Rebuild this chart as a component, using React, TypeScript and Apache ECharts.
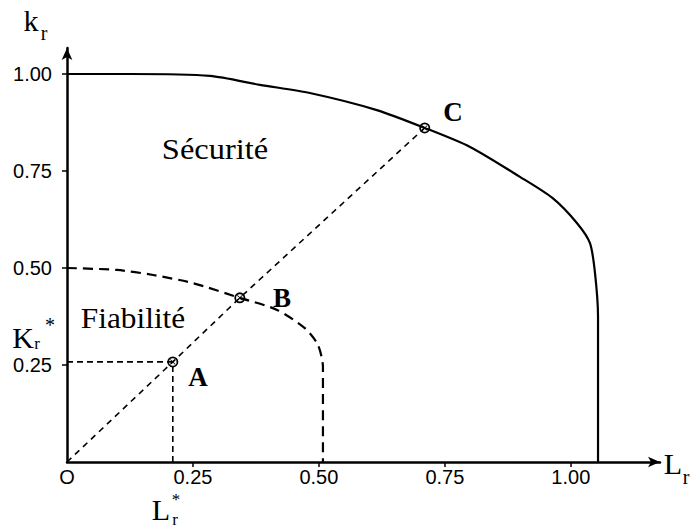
import React, { useEffect, useRef } from "react";
import * as echarts from "echarts";

// Outer limit curve (Sécurité), solid
const outerX = [0, 0.125, 0.284, 0.383, 0.482, 0.615, 0.71, 0.8, 0.899, 0.964, 1.012, 1.038, 1.048, 1.054, 1.054, 1.054];
const outerY = [1.0, 1.0, 0.995, 0.972, 0.951, 0.907, 0.861, 0.812, 0.735, 0.68, 0.616, 0.564, 0.487, 0.374, 0.289, 0];
// Inner limit curve (Fiabilité), dashed
const innerX = [0, 0.099, 0.171, 0.25, 0.343, 0.417, 0.472, 0.498, 0.508, 0.508];
const innerY = [0.5, 0.495, 0.482, 0.461, 0.423, 0.392, 0.345, 0.302, 0.245, 0];
// Load line from origin through A, B, C
const pointNames = ["A", "B", "C"];
const pointX = [0.21, 0.343, 0.71];
const pointY = [0.258, 0.423, 0.861];
// Axis ticks
const tickValues = [0.25, 0.5, 0.75, 1.0];

const NUM_FONT = "Liberation Sans, Arial, sans-serif";
const SERIF = "Liberation Serif, Times New Roman, serif";

const MARK =
  "path://M10 0A10 10 0 1 1 10 20A10 10 0 1 1 10 0ZM10 3.2A6.8 6.8 0 1 0 10 16.8A6.8 6.8 0 1 0 10 3.2ZM6 5L10 9L14 5L15 6L11 10L15 14L14 15L10 11L6 15L5 14L9 10L5 6Z";

const onQuarter = (v: number) => Math.abs(v * 4 - Math.round(v * 4)) < 1e-6;

export default function App() {
  const ref = useRef<HTMLDivElement>(null);
  useEffect(() => {
    if (!ref.current) return;
    const chart = echarts.init(ref.current, undefined, { renderer: "svg" });
    const zip = (xs: number[], ys: number[]) => xs.map((x, i) => [x, ys[i]]);
    const A = [pointX[0], pointY[0]];
    const txt = (text: string, x: number, y: number, size: number, opts: any = {}, sx = 1) => ({
      type: "text",
      x,
      y,
      scaleX: sx,
      style: {
        text,
        fontSize: size,
        fontFamily: SERIF,
        fill: "#000",
        align: "center",
        verticalAlign: "middle",
        ...opts,
      },
    });
    const loadLine = [
      { value: [0, 0], symbol: "none" },
      ...zip(pointX, pointY).map((p, i) => ({ value: p, name: pointNames[i] })),
    ];
    const axisCommon = {
      type: "value",
      min: 0,
      interval: 0.25,
      splitLine: { show: false },
      axisLine: {
        show: true,
        onZero: false,
        symbol: ["none", "arrow"],
        symbolSize: [8, 12],
        lineStyle: { color: "#000", width: 2.5 },
      },
      axisTick: { show: true, customValues: tickValues, length: 5, lineStyle: { color: "#000", width: 1.5 } },
    };
    chart.setOption({
      animation: false,
      backgroundColor: "#fff",
      grid: { left: 67, right: 32, top: 48, bottom: 68, containLabel: false },
      xAxis: {
        ...axisCommon,
        max: 1.177,
        axisLabel: {
          color: "#000",
          fontSize: 20,
          fontFamily: NUM_FONT,
          margin: 5,
          showMaxLabel: false,
          formatter: (v: number) => (!onQuarter(v) ? "" : v === 0 ? "O" : v.toFixed(2)),
        },
      },
      yAxis: {
        ...axisCommon,
        max: 1.067,
        axisLabel: {
          color: "#000",
          fontSize: 20,
          fontFamily: NUM_FONT,
          margin: 15,
          showMaxLabel: false,
          formatter: (v: number) => (!onQuarter(v) || v === 0 ? "" : v.toFixed(2)),
        },
      },
      series: [
        {
          type: "line",
          data: zip(outerX, outerY),
          showSymbol: false,
          smooth: 0.25,
          lineStyle: { color: "#000", width: 2.2 },
          z: 3,
        },
        {
          type: "line",
          data: zip(innerX, innerY),
          showSymbol: false,
          smooth: 0.25,
          lineStyle: { color: "#000", width: 2.2, type: [10, 6] },
          z: 3,
        },
        {
          type: "line",
          data: [[0, A[1]], A],
          showSymbol: false,
          lineStyle: { color: "#000", width: 1.6, type: [6, 4] },
          z: 2,
        },
        {
          type: "line",
          data: [[A[0], 0], A],
          showSymbol: false,
          lineStyle: { color: "#000", width: 1.6, type: [6, 4] },
          z: 2,
        },
        {
          type: "line",
          data: loadLine,
          showSymbol: true,
          showAllSymbol: true,
          symbol: MARK,
          symbolSize: 11,
          itemStyle: { color: "#000" },
          lineStyle: { color: "#000", width: 1.6, type: [6, 5] },
          z: 4,
        },
      ],
      graphic: [
        // y axis name k_r
        txt("k", 31, 20, 30),
        txt("r", 44, 33, 20),
        // x axis name L_r
        txt("L", 673, 463, 30),
        txt("r", 686, 477, 20),
        // K_r*
        txt("K", 23, 337, 30),
        txt("r", 37, 343, 17),
        txt("*", 50, 325, 20),
        // L_r*
        txt("L", 161, 509, 30),
        txt("r", 175, 519, 17),
        txt("*", 176, 499, 17),
        // Regions
        txt("Sécurité", 215, 150, 29, {}, 1.12),
        txt("Fiabilité", 133, 318, 29, {}, 1.08),
        // Points
        txt("A", 198, 377, 27, { fontWeight: "bold" }),
        txt("B", 282, 298, 27, { fontWeight: "bold" }),
        txt("C", 453, 112, 27, { fontWeight: "bold" }),
      ],
    });
    return () => chart.dispose();
  }, []);
  return (
    <div
      ref={ref}
      style={{ position: "fixed", left: 0, top: 0, width: 692, height: 530, background: "#fff" }}
    />
  );
}
